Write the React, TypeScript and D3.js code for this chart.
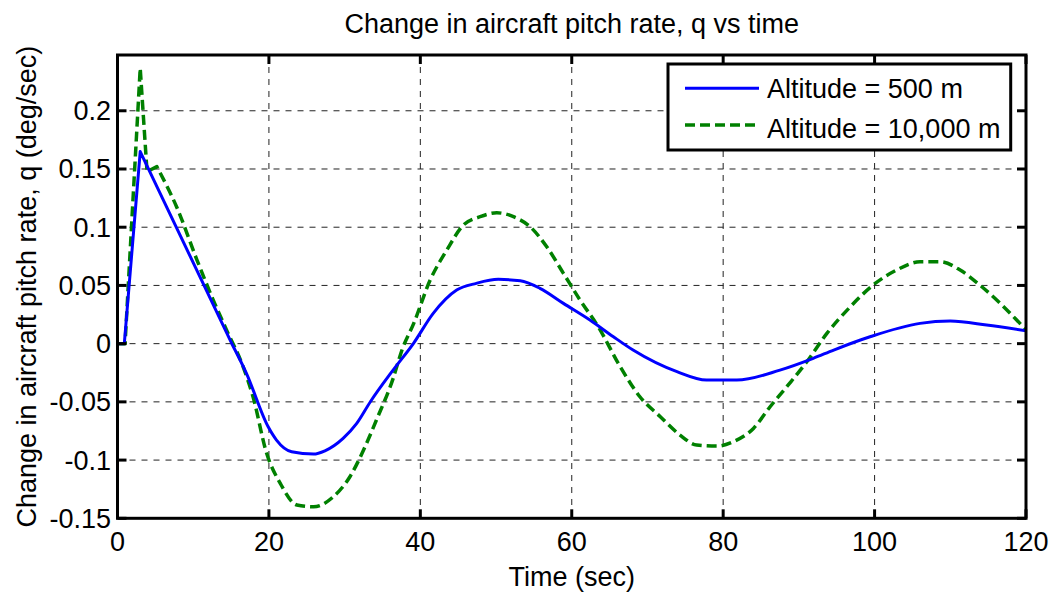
import React from "react";
import * as d3 from "d3";

// Pitch-rate response q(t) for two flight altitudes
const timeLow: number[] = [0, 0.9, 3, 15.1, 17, 19.9, 21, 23, 25.9, 27.4, 29.8, 31.6, 33.4, 36.4, 39.1, 41.7, 44.8, 47.4, 50.3, 53.2, 55.8, 58.9, 62.4, 65.5, 68.1, 73.9, 77.8, 81.8, 87.5, 91.9, 94.6, 99.4, 106, 110, 114.8, 120];
const qLow: number[] = [0, 0, 0.165, 0, -0.025, -0.0714, -0.0828, -0.0928, -0.0948, -0.092, -0.0813, -0.0685, -0.0499, -0.0227, 0.0003, 0.026, 0.046, 0.0518, 0.0552, 0.054, 0.0475, 0.0346, 0.0203, 0.0059, -0.0055, -0.0241, -0.0313, -0.0313, -0.0227, -0.0126, -0.0055, 0.0059, 0.0174, 0.0194, 0.016, 0.011];

const timeHigh: number[] = [0, 1, 3, 3.9, 5.2, 7.8, 10.5, 12.65, 14.4, 16.6, 17.9, 19.7, 21.5, 23.7, 25.9, 28.5, 30.7, 32.5, 34.2, 36.4, 37.6, 39.1, 41.3, 43.5, 45.7, 47.9, 50.1, 52.3, 54.5, 56.7, 58.9, 61.1, 63.5, 66.4, 69.0, 71.7, 74.3, 76.5, 79.2, 81.3, 84.0, 86.2, 88.4, 91.0, 93.7, 96.8, 99.8, 102.9, 106, 108.7, 111.3, 113.9, 116.6, 119.2, 120];
const qHigh: number[] = [0, 0, 0.2365, 0.1477, 0.152, 0.1176, 0.0718, 0.0374, 0.0117, -0.02, -0.0456, -0.0942, -0.12, -0.1386, -0.1401, -0.1315, -0.1143, -0.0914, -0.0656, -0.03, -0.005, 0.017, 0.0546, 0.0804, 0.1019, 0.109, 0.1124, 0.109, 0.1004, 0.0832, 0.0604, 0.0374, 0.0145, -0.0198, -0.0456, -0.0628, -0.0785, -0.0871, -0.088, -0.0843, -0.0728, -0.0542, -0.037, -0.016, 0.0088, 0.0317, 0.0503, 0.0632, 0.0703, 0.0703, 0.0632, 0.0503, 0.0346, 0.0174, 0.012];

const xTicks: number[] = [0, 20, 40, 60, 80, 100, 120];
const yTicks: number[] = [-0.15, -0.1, -0.05, 0, 0.05, 0.1, 0.15, 0.2];
const yTickLabels: string[] = ["-0.15", "-0.1", "-0.05", "0", "0.05", "0.1", "0.15", "0.2"];
const seriesNames: string[] = ["Altitude = 500 m", "Altitude = 10,000 m"];

const W = 1058;
const H = 597;
const left = 117.5;
const right = 1026;
const top = 55;
const bottom = 518.3;
const FONT = "'Liberation Sans', Arial, Helvetica, sans-serif";
const FS = 27;

type Pt = [number, number];

export default function App() {
  const x = d3.scaleLinear().domain([0, 120]).range([left, right]);
  const y = d3.scaleLinear().domain([-0.15, 0.2479]).range([bottom, top]);

  const straight = d3.line<Pt>().x((d) => x(d[0])).y((d) => y(d[1])).curve(d3.curveLinear);
  const smooth = d3.line<Pt>().x((d) => x(d[0])).y((d) => y(d[1])).curve(d3.curveMonotoneX);

  // sharp initial spike drawn straight, the slow oscillation drawn smooth
  const joined = (pts: Pt[], split: number) => {
    const head = straight(pts.slice(0, split + 1)) || "";
    const tail = (smooth(pts.slice(split)) || "").replace(/^M/, "L");
    return head + tail;
  };

  const lowPts: Pt[] = timeLow.map((t, i) => [t, qLow[i]]);
  const highPts: Pt[] = timeHigh.map((t, i) => [t, qHigh[i]]);

  const tickLen = 9;

  return (
    <svg
      width={W}
      height={H}
      style={{ position: "absolute", left: 0, top: 0, background: "#fff" }}
      fontFamily={FONT}
    >
      <defs>
        <clipPath id="plotArea">
          <rect x={left} y={top} width={right - left} height={bottom - top} />
        </clipPath>
      </defs>

      {/* grid */}
      <g stroke="#222" strokeWidth={1} strokeDasharray="6,6" fill="none">
        {xTicks.slice(1, -1).map((t) => (
          <line key={"gx" + t} x1={x(t)} x2={x(t)} y1={top} y2={bottom} />
        ))}
        {yTicks.slice(1).map((t) => (
          <line key={"gy" + t} x1={left} x2={right} y1={y(t)} y2={y(t)} />
        ))}
      </g>

      {/* data */}
      <g clipPath="url(#plotArea)" fill="none" strokeLinejoin="round">
        <path d={joined(highPts, 4)} stroke="#008000" strokeWidth={3.5} strokeDasharray="10,5" />
        <path d={joined(lowPts, 3)} stroke="#0000ff" strokeWidth={3} />
      </g>

      {/* ticks */}
      <g stroke="#000" strokeWidth={3}>
        {xTicks.map((t) => (
          <g key={"tx" + t}>
            <line x1={x(t)} x2={x(t)} y1={bottom} y2={bottom - tickLen} />
            <line x1={x(t)} x2={x(t)} y1={top} y2={top + tickLen} />
          </g>
        ))}
        {yTicks.map((t) => (
          <g key={"ty" + t}>
            <line x1={left} x2={left + tickLen} y1={y(t)} y2={y(t)} />
            <line x1={right} x2={right - tickLen} y1={y(t)} y2={y(t)} />
          </g>
        ))}
      </g>

      {/* frame */}
      <rect x={left} y={top} width={right - left} height={bottom - top} fill="none" stroke="#000" strokeWidth={3} />

      {/* tick labels */}
      <g fontSize={FS} fill="#000">
        {xTicks.map((t) => (
          <text key={"lx" + t} x={x(t)} y={551} textAnchor="middle">
            {t}
          </text>
        ))}
        {yTicks.map((t, i) => (
          <text key={"ly" + t} x={111} y={y(t)} dy="0.35em" textAnchor="end">
            {yTickLabels[i]}
          </text>
        ))}
      </g>

      {/* titles */}
      <text x={(left + right) / 2} y={33} textAnchor="middle" fontSize={FS}>
        Change in aircraft pitch rate, q vs time
      </text>
      <text x={(left + right) / 2} y={586} textAnchor="middle" fontSize={FS}>
        Time (sec)
      </text>
      <text
        transform={`translate(36, ${(top + bottom) / 2}) rotate(-90)`}
        textAnchor="middle"
        fontSize={FS}
      >
        Change in aircraft pitch rate, q (deg/sec)
      </text>

      {/* legend */}
      <g>
        <rect x={668} y={64} width={342.7} height={86} fill="#fff" stroke="#000" strokeWidth={3} />
        <line x1={685} x2={759} y1={88.3} y2={88.3} stroke="#0000ff" strokeWidth={3} />
        <line x1={685} x2={759} y1={125} y2={125} stroke="#008000" strokeWidth={3.5} strokeDasharray="10,5" />
        <text x={767} y={98} fontSize={FS}>{seriesNames[0]}</text>
        <text x={767} y={138} fontSize={FS}>{seriesNames[1]}</text>
      </g>
    </svg>
  );
}
